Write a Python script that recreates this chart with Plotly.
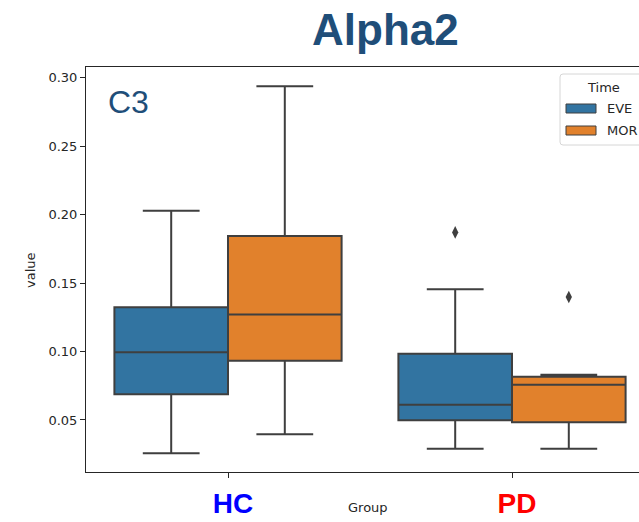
import plotly.graph_objects as go

# ---- data ----
groups = ["HC", "PD"]
times = ["EVE", "MOR"]

eve_low = [0.0257, 0.0290]
eve_q1 = [0.0688, 0.0498]
eve_med = [0.0994, 0.0612]
eve_q3 = [0.1323, 0.0984]
eve_high = [0.2028, 0.1454]
eve_outlier_group = ["PD"]
eve_outlier_val = [0.187]

mor_low = [0.0396, 0.0290]
mor_q1 = [0.0933, 0.0483]
mor_med = [0.1271, 0.0758]
mor_q3 = [0.1843, 0.0816]
mor_high = [0.2938, 0.0831]
mor_outlier_group = ["PD"]
mor_outlier_val = [0.1398]

yticks = [0.05, 0.10, 0.15, 0.20, 0.25, 0.30]
group_colors = {"HC": "blue", "PD": "red"}

# ---- styling ----
W, H = 639, 522
ML, MR, MT, MB = 86, 0, 67, 50
PW, PH = W - ML - MR, H - MT - MB
fills = {"EVE": "#3274a1", "MOR": "#e1812c"}
edge = "#3f3f3f"
hue_w = 0.4
offsets = {"EVE": -0.2, "MOR": 0.2}


def px(x):
    return (x - ML) / PW


def py(y):
    return (H - MB - y) / PH


gidx = {g: i for i, g in enumerate(groups)}

fig = go.Figure()
stats = {
    "EVE": (eve_low, eve_q1, eve_med, eve_q3, eve_high, eve_outlier_group, eve_outlier_val),
    "MOR": (mor_low, mor_q1, mor_med, mor_q3, mor_high, mor_outlier_group, mor_outlier_val),
}
for t in times:
    lo, q1, med, q3, hi, og, ov = stats[t]
    xs = [gidx[g] + offsets[t] for g in groups]
    fig.add_trace(go.Box(
        x=xs, q1=q1, median=med, q3=q3, lowerfence=lo, upperfence=hi,
        width=hue_w, whiskerwidth=0.5, fillcolor=fills[t],
        line=dict(color=edge, width=2), name=t, showlegend=False,
        boxpoints=False, hoverinfo="skip",
    ))
    fig.add_trace(go.Scatter(
        x=[gidx[g] + offsets[t] for g in og], y=ov, mode="markers",
        marker=dict(symbol="diamond-tall", size=9, color=edge),
        showlegend=False, hoverinfo="skip",
    ))

x_right = -0.5 + PW / 284.0

fig.update_layout(
    width=W, height=H,
    margin=dict(l=ML, r=MR, t=MT, b=MB, autoexpand=False),
    paper_bgcolor="white", plot_bgcolor="white",
    boxmode="overlay",
    showlegend=False,
    xaxis=dict(
        range=[-0.5, x_right], tickvals=[0, 1],
        ticktext=[f'<b><span style="color:{group_colors[g]}">{g}</span></b>' for g in groups],
        tickfont=dict(family="Liberation Sans", size=28),
        ticks="outside", ticklen=5, tickwidth=1, tickcolor="#262626",
        showline=True, linecolor="#262626", linewidth=1, mirror=True,
        showgrid=False, zeroline=False, ticklabelstandoff=1, ticklabelshift=5,
    ),
    yaxis=dict(
        range=[0.0120, 0.3078], tickvals=yticks, tickformat=".2f",
        tickfont=dict(family="DejaVu Sans", size=13, color="#262626"),
        ticks="outside", ticklen=5, tickwidth=1, tickcolor="#262626",
        showline=True, linecolor="#262626", linewidth=1, mirror=False,
        showgrid=False, zeroline=False,
    ),
)

ann = []
ann.append(dict(text="<b>Alpha2</b>", x=px(385), y=py(30), xref="paper", yref="paper",
                showarrow=False, xanchor="center", yanchor="middle",
                font=dict(family="Liberation Sans", size=44, color="#1f4e79")))
ann.append(dict(text="C3", x=px(106), y=py(102), xref="paper", yref="paper",
                showarrow=False, xanchor="left", yanchor="middle",
                font=dict(family="Liberation Sans", size=32, color="#1f4e79")))
ann.append(dict(text="Group", x=px(368), y=py(508), xref="paper", yref="paper",
                showarrow=False, xanchor="center", yanchor="middle",
                font=dict(family="DejaVu Sans", size=13, color="#262626")))
ann.append(dict(text="value", x=px(30), y=py(270), xref="paper", yref="paper",
                showarrow=False, xanchor="center", yanchor="middle", textangle=-90,
                font=dict(family="DejaVu Sans", size=13, color="#262626")))

# legend (manual, clipped by the figure edge like the reference)
lx0, lx1, ly0, ly1, r = 560, 680, 74, 145, 3
rx, ry = r / PW, r / PH
X0, X1, Y0, Y1 = px(lx0), px(lx1), py(ly0), py(ly1)
path = (f"M{X0+rx},{Y0} L{X1-rx},{Y0} Q{X1},{Y0} {X1},{Y0-ry} L{X1},{Y1+ry} "
        f"Q{X1},{Y1} {X1-rx},{Y1} L{X0+rx},{Y1} Q{X0},{Y1} {X0},{Y1+ry} "
        f"L{X0},{Y0-ry} Q{X0},{Y0} {X0+rx},{Y0} Z")
shapes = [dict(type="path", path=path, xref="paper", yref="paper",
               line=dict(color="#d6d6d6", width=1), fillcolor="rgba(255,255,255,0.8)", layer="above")]
ann.append(dict(text="Time", x=px(603), y=py(87), xref="paper", yref="paper",
                showarrow=False, xanchor="center", yanchor="middle",
                font=dict(family="DejaVu Sans", size=13, color="#262626")))
for i, t in enumerate(times):
    yc = 108.5 + i * 22
    shapes.append(dict(type="rect", xref="paper", yref="paper",
                       x0=px(566), x1=px(596), y0=py(yc - 4.5), y1=py(yc + 4.5),
                       fillcolor=fills[t], line=dict(color=edge, width=1), layer="above"))
    ann.append(dict(text=t, x=px(605), y=py(yc), xref="paper", yref="paper",
                    showarrow=False, xanchor="left", yanchor="middle",
                    font=dict(family="DejaVu Sans", size=13, color="#262626")))

fig.update_layout(annotations=ann, shapes=shapes)
fig.write_html("out.html")
